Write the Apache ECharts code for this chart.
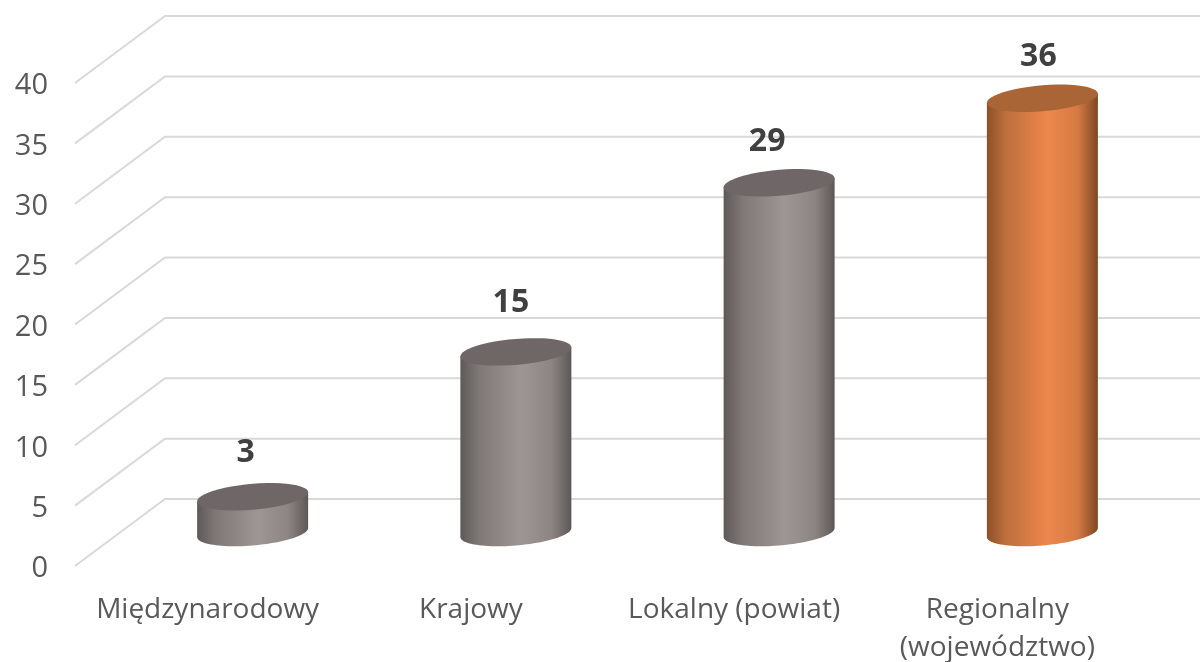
<!DOCTYPE html>
<html><head><meta charset="utf-8">
<style>html,body{margin:0;padding:0;background:#fff}#c{width:1200px;height:662px}</style>
<script src="https://cdn.jsdelivr.net/npm/echarts@6/dist/echarts.min.js"></script>
</head><body><div id="c"></div>
<script>
const categories = ['Międzynarodowy', 'Krajowy', 'Lokalny (powiat)', 'Regionalny\n(województwo)'];
const values = [3, 15, 29, 36];
const gridValues = [0, 5, 10, 15, 20, 25, 30, 35, 40];
const labelNudge = [-7, -5, -12, -4];
const labelLift = [44, 49, 41, 41];

const GREY = {stops: ['#5e5959', '#7f7877', '#9e9694', '#8d8583', '#5c5757'], top: '#6f6767'};
const ORANGE = {stops: ['#8c5028', '#bd6f3c', '#ee874d', '#d57a44', '#7d4721'], top: '#a96536'};
const palette = [GREY, GREY, GREY, ORANGE];

const DEPTH_X = 90, DEPTH_Y = -67;
const A = 55.5, B = 13, K = 4.5;

function arc(cx, cy, from, to) {
  const pts = [];
  for (let i = 0; i <= 48; i++) {
    const t = from + (to - from) * i / 48;
    pts.push([cx + A * Math.cos(t), cy + B * Math.sin(t) - K * Math.cos(t)]);
  }
  return pts;
}

function renderWall(params, api) {
  const y = api.coord([0, api.value(0)])[1];
  const r = params.coordSys;
  return {
    type: 'polyline',
    shape: {points: [[r.x - 1, y], [r.x - 1 + DEPTH_X, y + DEPTH_Y], [1200, y + DEPTH_Y]]},
    style: {stroke: '#d9d9d9', lineWidth: 2, fill: null}
  };
}

function renderCylinder(params, api) {
  const i = api.value(0), v = api.value(1);
  const top = api.coord([i, v]), base = api.coord([i, 0]);
  const cx = top[0] + DEPTH_X / 2, yt = top[1] + DEPTH_Y / 2 + 0.5, yb = base[1] + DEPTH_Y / 2;
  const c = palette[i];
  const fill = new echarts.graphic.LinearGradient(0, 0, 1, 0, [
    {offset: 0, color: c.stops[0]}, {offset: 0.17, color: c.stops[1]},
    {offset: 0.55, color: c.stops[2]}, {offset: 0.82, color: c.stops[3]},
    {offset: 1, color: c.stops[4]}
  ]);
  const body = [[cx - A, yt + K]].concat(arc(cx, yb, Math.PI, 0)).concat([[cx + A, yt - K]]);
  return {
    type: 'group',
    children: [
      {type: 'polygon', shape: {points: body}, style: {fill}},
      {type: 'polygon', shape: {points: arc(cx, yt, 0, Math.PI * 2)}, style: {fill: c.top}},
      {type: 'text', style: {
        text: String(v), x: cx + labelNudge[i], y: yt - labelLift[i],
        align: 'center', verticalAlign: 'middle',
        font: 'bold 32px "Open Sans"', fill: '#404040'
      }}
    ]
  };
}

const chart = echarts.init(document.getElementById('c'), null, {renderer: 'canvas'});
chart.setOption({
  animation: false,
  backgroundColor: '#fff',
  grid: {left: 76, right: 71, top: 83, bottom: 96, outerBoundsMode: 'none'},
  xAxis: {
    type: 'category', data: categories,
    axisLine: {show: false}, axisTick: {show: false}, splitLine: {show: false},
    axisLabel: {color: '#595959', fontFamily: 'Open Sans', fontSize: 28, lineHeight: 38, margin: 25, interval: 0}
  },
  yAxis: {
    type: 'value', min: 0, max: 40, interval: 5,
    axisLine: {show: false}, axisTick: {show: false}, splitLine: {show: false},
    axisLabel: {
      margin: 28, formatter: '{t|{value}}',
      rich: {t: {color: '#595959', fontFamily: 'Open Sans', fontSize: 29, padding: [6, 0, 0, 0]}}
    }
  },
  series: [
    {type: 'custom', coordinateSystem: 'cartesian2d', clip: false, silent: true, z: 1,
     encode: {x: 1, y: 0}, data: gridValues.map(v => [v, 0]), renderItem: renderWall},
    {type: 'custom', coordinateSystem: 'cartesian2d', clip: false, silent: true, z: 2,
     encode: {x: 0, y: 1}, data: values.map((v, i) => [i, v]), renderItem: renderCylinder}
  ]
});
</script></body></html>
